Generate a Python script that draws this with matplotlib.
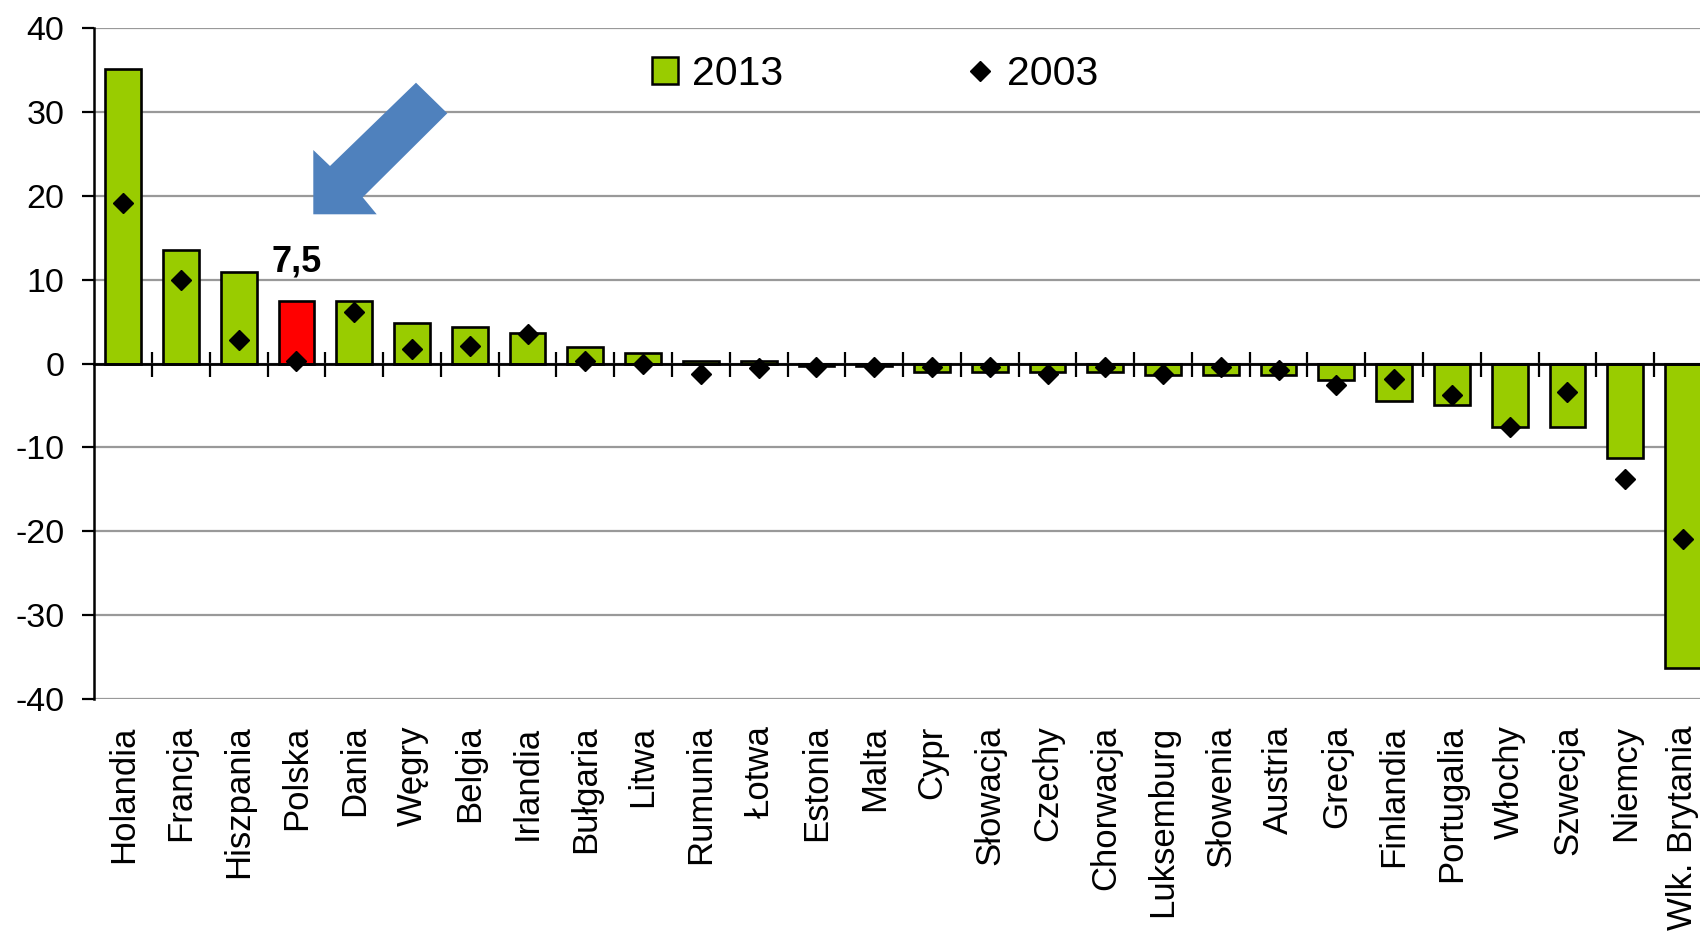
import numpy as np
import matplotlib
matplotlib.use("Agg")
import matplotlib.pyplot as plt
from matplotlib.patches import Patch, Polygon
from matplotlib.lines import Line2D

plt.rcParams['font.family'] = ['Liberation Sans', 'DejaVu Sans']

categories = ['Holandia', 'Francja', 'Hiszpania', 'Polska', 'Dania', 'Węgry', 'Belgia',
              'Irlandia', 'Bułgaria', 'Litwa', 'Rumunia', 'Łotwa', 'Estonia', 'Malta',
              'Cypr', 'Słowacja', 'Czechy', 'Chorwacja', 'Luksemburg', 'Słowenia',
              'Austria', 'Grecja', 'Finlandia', 'Portugalia', 'Włochy', 'Szwecja',
              'Niemcy', 'Wlk. Brytania']
values_2013 = [35.2, 13.6, 10.9, 7.5, 7.5, 4.8, 4.4, 3.7, 2.0, 1.3, 0.3, 0.3, -0.3, -0.3,
               -1.0, -1.0, -1.0, -1.0, -1.3, -1.3, -1.3, -1.9, -4.5, -4.9, -7.6, -7.6,
               -11.3, -36.3]
values_2003 = [19.2, 10.0, 2.8, 0.3, 6.2, 1.8, 2.1, 3.5, 0.3, 0.0, -1.2, -0.5, -0.4, -0.4,
               -0.4, -0.4, -1.2, -0.4, -1.2, -0.4, -0.8, -2.5, -1.8, -3.7, -7.6, -3.4,
               -13.8, -20.9]
highlight = 'Polska'
highlight_label = '7,5'
legend_labels = ['2013', '2003']
yticks = [-40, -30, -20, -10, 0, 10, 20, 30, 40]

GREEN = '#99CC00'
RED = '#FF0000'
BLUE = '#4F81BD'

W, H = 1700, 931
fig = plt.figure(figsize=(W / 100, H / 100), dpi=100)
ax = fig.add_axes([94.3 / W, 1 - 699 / H, 1 - 94.3 / W, (699 - 28.3) / H])

# spines first (repositioning a spine resets the ticks)
for s in ['bottom', 'right']:
    ax.spines[s].set_visible(False)
ax.spines['top'].set_position(('data', 0))
ax.spines['top'].set_linewidth(2.0)
ax.spines['top'].set_zorder(4)
ax.spines['left'].set_linewidth(1.8)

x = np.arange(len(categories))
colors = [RED if c == highlight else GREEN for c in categories]
ax.bar(x, values_2013, width=0.62, color=colors, edgecolor='black', linewidth=1.9, zorder=2)
ax.plot(x, values_2003, linestyle='none', marker='D', markersize=10, color='black', zorder=3)

hi = categories.index(highlight)
ax.annotate(highlight_label, (hi, values_2013[hi]), xytext=(0, 21), textcoords='offset points',
            ha='center', va='baseline', fontsize=26, fontweight='bold')

ax.set_xlim(-0.5, -0.5 + (W - 94.3) / 57.77)
ax.set_ylim(-40, 40)
ax.set_yticks(yticks)
ax.set_yticklabels([str(t) for t in yticks])
ax.yaxis.grid(True, color='#999999', linewidth=1.6)
ax.set_axisbelow(True)

ax.set_xticks(x)
ax.set_xticklabels(categories)
ax.set_xticks(np.arange(0.5, len(categories) - 1, 1), minor=True)
ax.tick_params(axis='x', which='major', length=0, pad=19, bottom=True, top=False,
               labelbottom=True, labeltop=False, labelrotation=90, labelsize=25)
ax.tick_params(axis='x', which='minor', top=True, bottom=False, direction='inout',
               length=18, width=1.6, color='black', labeltop=False, labelbottom=False)
ax.tick_params(axis='y', which='major', direction='out', length=8.6, width=1.6,
               labelsize=24.5, pad=13)

# arrow decoration (pixel coords, top-left origin)
arrow_px = [(313.3, 214.3), (313.3, 150), (330, 166), (416, 82.7), (447.3, 113.3),
            (362.7, 197.3), (376.7, 214.3)]
arrow = Polygon([(px / W, 1 - py / H) for px, py in arrow_px], closed=True,
                transform=fig.transFigure, facecolor=BLUE, edgecolor='none', zorder=5)
fig.patches.append(arrow)

handles = [Patch(facecolor=GREEN, edgecolor='black', linewidth=1.8),
           Line2D([], [], linestyle='none', marker='D', markersize=10, color='black')]
fig.legend(handles, legend_labels, loc='center left', bbox_to_anchor=(652 / W, 1 - 74 / H),
           ncol=2, frameon=False, fontsize=29.5, handlelength=0.63, handleheight=0.63,
           handletextpad=0.34, columnspacing=4.5, borderpad=0, borderaxespad=0)

fig.savefig('out.png', dpi=100)
